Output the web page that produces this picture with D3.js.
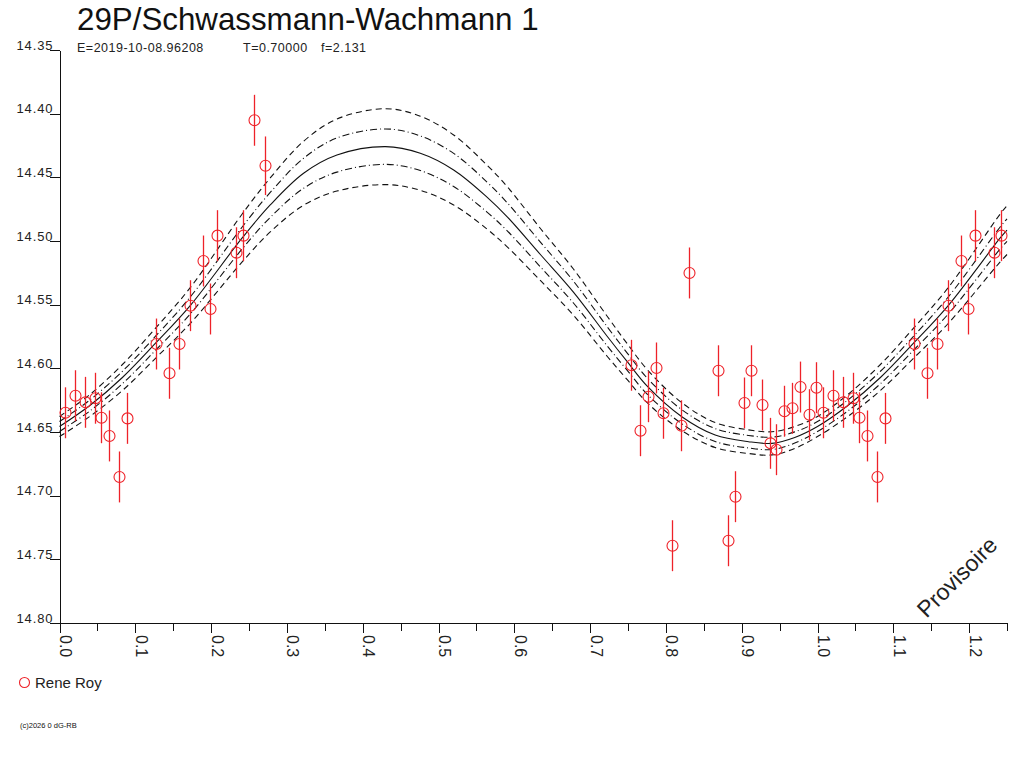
<!DOCTYPE html>
<html>
<head>
<meta charset="utf-8">
<script src="https://cdn.jsdelivr.net/npm/d3@7/dist/d3.min.js"></script>
<style>
  body { margin: 0; background: #fff; }
  svg { font-family: "Liberation Sans", Arial, sans-serif; }
</style>
</head>
<body>
<div id="js-chart"></div>
<script>
//  Observations (phase, magnitude, error)
var obsPhase = [0.0079, 0.0211, 0.0334, 0.0462, 0.0550, 0.0651, 0.0788, 0.0884, 0.1270, 0.1438,
                0.1574, 0.1728, 0.1887, 0.1983, 0.2076, 0.2322, 0.2418, 0.2569, 0.2714,
                0.7546, 0.7661, 0.7766, 0.7863, 0.7959, 0.8074, 0.8197, 0.8311, 0.8685, 0.8817,
                0.8918, 0.9033, 0.9129, 0.9270, 0.9367, 0.9455, 0.9555, 0.9657, 0.9763, 0.9891, 0.9983];
var obsMag = [14.6349, 14.6215, 14.6267, 14.6235, 14.6388, 14.6531, 14.6853, 14.6393, 14.5809, 14.6039,
              14.5809, 14.5508, 14.5157, 14.5534, 14.4958, 14.5092, 14.4958, 14.4052, 14.4409,
              14.5976, 14.6490, 14.6223, 14.5997, 14.6353, 14.7393, 14.6451, 14.5251, 14.6019, 14.7354,
              14.7008, 14.6272, 14.6019, 14.6288, 14.6589, 14.6639, 14.6337, 14.6314, 14.6147, 14.6364, 14.6152];
var obsErr = [0.02, 0.02, 0.02, 0.02, 0.02, 0.02, 0.02, 0.02, 0.02, 0.02,
              0.02, 0.02, 0.02, 0.02, 0.02, 0.02, 0.02, 0.02, 0.023,
              0.02, 0.02, 0.02, 0.02, 0.02, 0.02, 0.02, 0.02, 0.02, 0.02,
              0.02, 0.02, 0.02, 0.02, 0.02, 0.02, 0.02, 0.02, 0.02, 0.02, 0.02];

//  Model curve and its two uncertainty bands
var modelPhase = [0, 0.040, 0.083, 0.127, 0.173, 0.241, 0.278, 0.322, 0.366, 0.430,
                  0.476, 0.520, 0.564, 0.591, 0.635, 0.678, 0.723, 0.749, 0.776, 0.821,
                  0.865, 0.909, 0.940, 0.970, 1.000, 1.040, 1.083, 1.127, 1.173, 1.241, 1.250];
var modelMag = [14.6457, 14.6292, 14.6072, 14.5801, 14.5503, 14.4976, 14.4717, 14.4468, 14.4325, 14.4259,
                14.4311, 14.4442, 14.4655, 14.4812, 14.5110, 14.5401, 14.5752, 14.5948, 14.6144, 14.6380,
                14.6524, 14.6576, 14.6589, 14.6543, 14.6457, 14.6292, 14.6072, 14.5801, 14.5503, 14.4976, 14.4914];
var sigma1 = [0.0039, 0.0043, 0.0049, 0.0055, 0.0067, 0.0086, 0.0098, 0.0118, 0.0134, 0.0139,
              0.0136, 0.0130, 0.0118, 0.0110, 0.0097, 0.0086, 0.0075, 0.0068, 0.0063, 0.0055,
              0.0051, 0.0049, 0.0049, 0.0044, 0.0039, 0.0043, 0.0049, 0.0055, 0.0067, 0.0086, 0.0088];
var sigma2 = [0.0079, 0.0086, 0.0102, 0.0118, 0.0141, 0.0188, 0.0212, 0.0251, 0.0283, 0.0298,
              0.0291, 0.0275, 0.0251, 0.0236, 0.0204, 0.0181, 0.0157, 0.0141, 0.0130, 0.0110,
              0.0098, 0.0093, 0.0091, 0.0086, 0.0079, 0.0086, 0.0102, 0.0118, 0.0141, 0.0188, 0.0192];

//  Axis ticks
var yTicks = [14.35, 14.40, 14.45, 14.50, 14.55, 14.60, 14.65, 14.70, 14.75, 14.80];
var xMajorTicks = [0.0, 0.1, 0.2, 0.3, 0.4, 0.5, 0.6, 0.7, 0.8, 0.9, 1.0, 1.1, 1.2];
var xMinorTicks = [0.05, 0.15, 0.25, 0.35, 0.45, 0.55, 0.65, 0.75, 0.85, 0.95, 1.05, 1.15, 1.25];

//  Texts
var titleText = "29P/Schwassmann-Wachmann 1";
var subTexts = ["E=2019-10-08.96208", "T=0.70000", "f=2.131"];
var observerName = "Rene Roy";

var red = "#ee2229";
var svg, x, y;

// ---------------------------------------------------------------------------------- //

function Setup()
{
    svg = d3.select("#js-chart")
      .append("svg")
      .attr("width", 1024)
      .attr("height", 768);

    x = d3.scaleLinear().domain([0, 1.25]).range([59.5, 1007]);
    y = d3.scaleLinear().domain([14.35, 14.80]).range([50, 623]);
}
// ---------------------------------------------------------------------------------- //

function Axes()
{
    // Y axis, labels sit on top of the ticks
    var yAxis = svg.append("g")
      .attr("transform", "translate(59.5,0)")
      .style("shape-rendering", "crispEdges")
      .call(d3.axisLeft(y).tickValues(yTicks).tickSize(10).tickSizeOuter(0)
        .tickFormat(d3.format(".2f")));
    yAxis.selectAll("text")
      .attr("x", -6)
      .attr("y", -1)
      .attr("dy", 0)
      .style("font-size", "13px")
      .style("letter-spacing", "0.9px")
      .style("font-family", "'Liberation Sans', Arial, sans-serif")
      .attr("fill", "#222");

    // X axis minor ticks
    svg.append("g")
      .attr("transform", "translate(0,623)")
      .style("shape-rendering", "crispEdges")
      .call(d3.axisBottom(x).tickValues(xMinorTicks).tickSize(8).tickSizeOuter(0).tickFormat(""));

    // X axis major ticks with rotated labels
    var xAxis = svg.append("g")
      .attr("transform", "translate(0,623)")
      .style("shape-rendering", "crispEdges")
      .call(d3.axisBottom(x).tickValues(xMajorTicks).tickSize(10).tickSizeOuter(0)
        .tickFormat(d3.format(".1f")));
    xAxis.selectAll("text")
      .attr("transform", "rotate(90)")
      .attr("x", 12)
      .attr("y", 0)
      .attr("dy", 0)
      .attr("text-anchor", "start")
      .style("font-size", "16px")
      .style("font-family", "'Liberation Sans', Arial, sans-serif")
      .attr("fill", "#222");

    svg.selectAll(".domain, .tick line").attr("stroke", "#111");
}
// ---------------------------------------------------------------------------------- //

function Curves()
{
    var line = d3.line().curve(d3.curveCatmullRom.alpha(0.5));

    // offset: multiple of sigma, dash: stroke pattern
    var bands = [
      { s: sigma2, k: -1, dash: "6,4" },
      { s: sigma1, k: -1, dash: "7,3,1,3" },
      { s: null,   k: 0,  dash: null },
      { s: sigma1, k: 1,  dash: "7,3,1,3" },
      { s: sigma2, k: 1,  dash: "6,4" }
    ];

    bands.forEach(function(b)
    {
      var pts = modelPhase.map(function(p, i) {
        var m = modelMag[i] + (b.s ? b.k * b.s[i] : 0);
        return [x(p), y(m)];
      });
      svg.append("path")
        .attr("d", line(pts))
        .attr("fill", "none")
        .attr("stroke", "#111")
        .attr("stroke-width", 1.1)
        .attr("stroke-dasharray", b.dash);
    });
}
// ---------------------------------------------------------------------------------- //

function Points()
{
    // each observation is shown again one period later while it stays inside the axis
    var pts = [];
    obsPhase.forEach(function(p, i) {
      pts.push({ p: p, m: obsMag[i], e: obsErr[i] });
      if (p + 1 <= 1.25) pts.push({ p: p + 1, m: obsMag[i], e: obsErr[i] });
    });

    var g = svg.append("g");

    g.selectAll("line.err")
      .data(pts)
      .enter().append("line")
      .attr("class", "err")
      .attr("x1", function(d) { return Math.round(x(d.p)) + 0.5; })
      .attr("x2", function(d) { return Math.round(x(d.p)) + 0.5; })
      .attr("y1", function(d) { return y(d.m - d.e); })
      .attr("y2", function(d) { return y(d.m + d.e); })
      .attr("stroke", red)
      .attr("stroke-width", 1.3);

    g.selectAll("circle")
      .data(pts)
      .enter().append("circle")
      .attr("cx", function(d) { return Math.round(x(d.p)) + 0.5; })
      .attr("cy", function(d) { return y(d.m); })
      .attr("r", 5.5)
      .attr("fill", "none")
      .attr("stroke", red)
      .attr("stroke-width", 1.1);
}
// ---------------------------------------------------------------------------------- //

function Texts()
{
    svg.append("text")
      .attr("x", 77)
      .attr("y", 30)
      .style("font-size", "31.3px")
      .attr("fill", "#111")
      .text(titleText);

    var subX = [77, 243, 321];
    subTexts.forEach(function(t, i) {
      svg.append("text")
        .attr("x", subX[i])
        .attr("y", 52)
        .style("font-size", "12.5px")
        .style("letter-spacing", "0.5px")
        .attr("fill", "#222")
        .text(t);
    });

    // Legend
    svg.append("circle")
      .attr("cx", 24.5)
      .attr("cy", 682.5)
      .attr("r", 5)
      .attr("fill", "none")
      .attr("stroke", red)
      .attr("stroke-width", 1.1);
    svg.append("text")
      .attr("x", 35)
      .attr("y", 688)
      .style("font-size", "15px")
      .attr("fill", "#222")
      .text(observerName);

    // Footer
    svg.append("text")
      .attr("x", 20)
      .attr("y", 728)
      .style("font-size", "7.5px")
      .attr("fill", "#111")
      .text("(c)2026 0 dG-RB");

    // Watermark
    svg.append("text")
      .attr("transform", "translate(957,577) rotate(-45)")
      .attr("text-anchor", "middle")
      .attr("dy", "0.35em")
      .style("font-size", "23px")
      .attr("fill", "#222")
      .text("Provisoire");
}
// ---------------------------------------------------------------------------------- //

Setup();
Curves();
Axes();
Points();
Texts();
</script>
</body>
</html>
